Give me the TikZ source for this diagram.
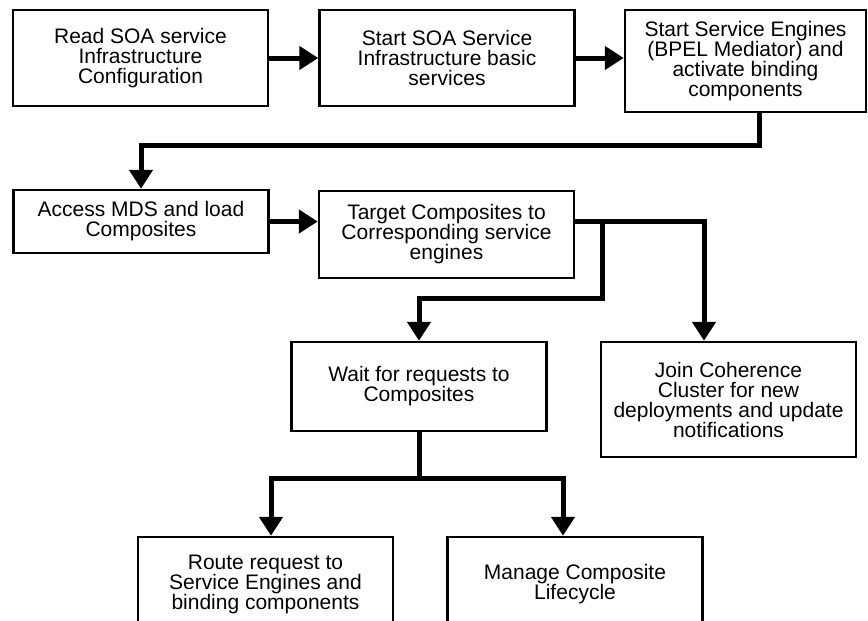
\documentclass[tikz,border=0pt]{standalone}
\usepackage{fontspec}
\setmainfont{Liberation Sans}
\usetikzlibrary{arrows.meta, positioning, calc}

\begin{document}
\begin{tikzpicture}[x=1pt, y=-1pt,
    box/.style={draw, line width=2.5pt, minimum width=255pt, inner sep=0pt, align=center, font=\fontsize{21}{20}\selectfont},
    arrow/.style={-{Triangle[width=23pt, length=19pt]}, line width=5pt},
    link/.style={line width=5pt}
]
    \useasboundingbox (0,0) rectangle (868,621);

    \node[box, minimum height=96pt] (read) at (140.5,58) {Read SOA service\\Infrastructure\\Configuration};
    \node[box, minimum height=96pt] (basic) at (447,58) {Start SOA Service\\Infrastructure basic\\services};
    \node[box, minimum width=241pt, minimum height=102pt] (engines) at (745.5,61) {Start Service Engines\\(BPEL Mediator) and\\activate binding\\components};
    \node[box, minimum height=63pt] (mds) at (141,221.5) {Access MDS and load\\Composites};
    \node[box, minimum height=87pt] (target) at (446.5,234.5) {Target Composites to\\Corresponding service\\engines};
    \node[box, minimum height=89pt] (wait) at (419,386.5) {Wait for requests to\\Composites};
    \node[box, minimum height=115pt] (join) at (728.5,399.5) {Join Coherence\\Cluster for new\\deployments and update\\notifications};
    \node[box, minimum height=94pt] (route) at (265.5,584) {Route request to\\Service Engines and\\binding components};
    \node[box, minimum height=94pt] (manage) at (575,584) {Manage Composite\\Lifecycle};

    \draw[arrow] (read) -- (basic);
    \draw[arrow] (basic.east) -- (basic.east -| engines.west);
    \draw[arrow] ($(engines.south)+(13.5,0)$) -- ++(0,32) -| (mds.north);
    \draw[arrow] (mds.east) -- (mds.east -| target.west);

    \coordinate (split) at ($(target.east)+(27,-13.5)$);
    \draw[arrow] ($(target.east)+(0,-13.5)$) -| ($(join.north)+(-24.5,0)$);
    \draw[arrow] (split) -- ++(0,77) -| (wait.north);

    \draw[link] (wait.south) -- ++(0,46) coordinate (fork);
    \draw[arrow] (fork) -| ($(route.north)+(5.5,0)$);
    \draw[arrow] (fork) -| ($(manage.north)+(-12,0)$);
\end{tikzpicture}
\end{document}
